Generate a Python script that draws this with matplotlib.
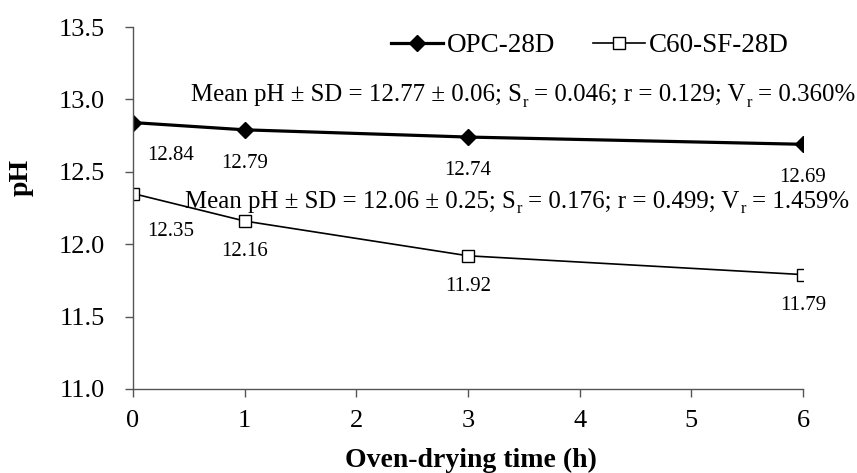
import matplotlib
matplotlib.use("Agg")
import matplotlib.pyplot as plt

plt.rcParams['font.family'] = ['Liberation Serif', 'DejaVu Serif']

# data
hours = [0, 1, 3, 6]
opc_ph = [12.84, 12.79, 12.74, 12.69]
c60_ph = [12.35, 12.16, 11.92, 11.79]
series_names = ['OPC-28D', 'C60-SF-28D']
# stats lines: (text, is_subscript)
opc_stats = [('Mean pH ± SD = 12.77 ± 0.06; S', False), ('r', True),
             ('= 0.046; r = 0.129; V', False), ('r', True), ('= 0.360%', False)]
c60_stats = [('Mean pH ± SD = 12.06 ± 0.25; S', False), ('r', True),
             ('= 0.176; r = 0.499; V', False), ('r', True), ('= 1.459%', False)]
y_ticks = [11.0, 11.5, 12.0, 12.5, 13.0, 13.5]
x_ticks = [0, 1, 2, 3, 4, 5, 6]


def draw_stats(ax, x, y, pieces, size=17.9, sub_size=12):
    # chain text pieces left to right so subscripts can be drawn without mathtext
    main = ax.text(x, y, pieces[0][0], ha='left', va='bottom', fontsize=size)
    prev = main
    for txt, sub in pieces[1:]:
        if sub:
            prev = ax.annotate(txt, xy=(1, 0), xycoords=(prev, main),
                               xytext=(0.5, -3.2), textcoords='offset points',
                               ha='left', va='bottom', fontsize=sub_size)
        else:
            prev = ax.annotate(txt, xy=(1, 0), xycoords=(prev, main),
                               xytext=(4.5, 0), textcoords='offset points',
                               ha='left', va='bottom', fontsize=size)


fig = plt.figure(figsize=(8.57, 4.73), dpi=100)
ax = fig.add_axes([0.1552, 0.1776, 0.7818, 0.7653])

ax.plot(hours, opc_ph, color='black', lw=2.3, marker='D', ms=8,
        mfc='black', mec='black', label=series_names[0])
ax.plot(hours, c60_ph, color='black', lw=1.2, marker='s', ms=8.5,
        mfc='white', mec='black', mew=1.0, label=series_names[1])

ax.set_xlim(0, 6)
ax.set_ylim(11.0, 13.5)
ax.set_xticks(x_ticks)
ax.set_yticks(y_ticks)
ax.set_yticklabels([f'{v:.1f}' for v in y_ticks])

for s in ['top', 'right']:
    ax.spines[s].set_visible(False)
for s in ['left', 'bottom']:
    ax.spines[s].set_color('#555555')
    ax.spines[s].set_linewidth(1.0)
ax.tick_params(axis='both', direction='out', length=6, width=1.0,
               color='#555555', labelsize=19)
ax.tick_params(axis='y', pad=14)
ax.tick_params(axis='x', pad=9)

# point labels
for x, y in zip(hours, opc_ph):
    dx = 27 if x == 0 else 0
    ax.annotate(f'{y:.2f}', (x, y), xytext=(dx, -24), textcoords='offset points',
                ha='center', va='center', fontsize=15)
for x, y in zip(hours, c60_ph):
    dx = 27 if x == 0 else 0
    dy = -27 if x == 0 else -22
    ax.annotate(f'{y:.2f}', (x, y), xytext=(dx, dy), textcoords='offset points',
                ha='center', va='center', fontsize=15)

draw_stats(ax, 0.52, 12.953, opc_stats)
draw_stats(ax, 0.466, 12.218, c60_stats)

ax.legend(loc='upper right', bbox_to_anchor=(1.015, 1.05), ncol=2, frameon=False,
          fontsize=19.5, handlelength=1.9, handletextpad=0.15, columnspacing=1.4)

ax.set_ylabel('pH', fontsize=20, fontweight='bold')
ax.set_xlabel('Oven-drying time (h)', fontsize=20, fontweight='bold')
ax.yaxis.set_label_coords(-0.148, 0.585)
ax.xaxis.set_label_coords(0.504, -0.162)

fig.savefig('out.png', dpi=100)
